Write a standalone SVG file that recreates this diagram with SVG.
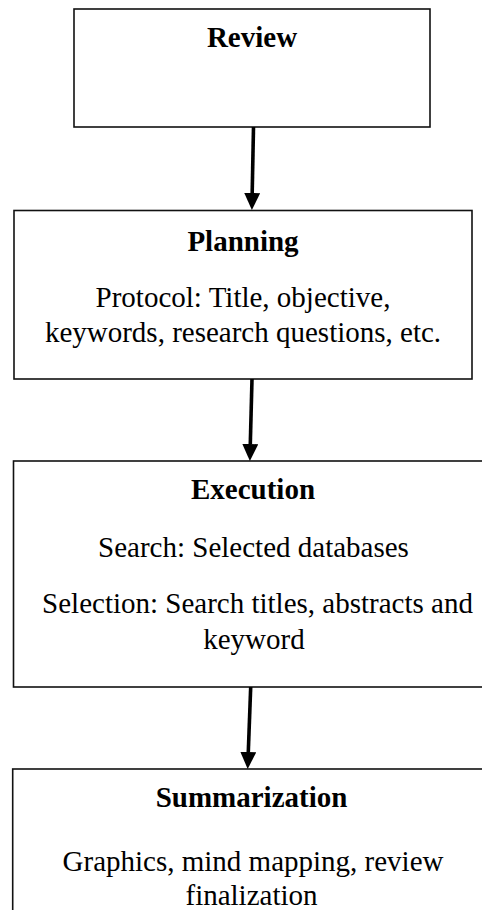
<svg xmlns="http://www.w3.org/2000/svg" width="482" height="910" viewBox="0 0 482 910">
  <style>
    .box { fill: #ffffff; stroke: #111111; stroke-width: 1.6; }
    .title { font-family: "Liberation Serif", "Times New Roman", serif; font-size: 29px; font-weight: bold; fill: #000; text-anchor: middle; }
    .body { font-family: "Liberation Serif", "Times New Roman", serif; font-size: 29px; fill: #000; text-anchor: middle; }
    .conn { stroke: #000; stroke-width: 3.6; fill: none; marker-end: url(#head); }
  </style>
  <defs>
    <marker id="head" markerUnits="userSpaceOnUse" markerWidth="18" markerHeight="17" refX="0" refY="8" orient="auto" viewBox="0 0 18 17">
      <path d="M0,0 L17,8 L0,16 z" fill="#000"/>
    </marker>
  </defs>
  <rect width="482" height="910" fill="#ffffff"/>

  <g id="review">
    <rect class="box" x="74" y="9" width="356" height="118"/>
    <text class="title" x="252" y="47">Review</text>
  </g>

  <g id="planning">
    <rect class="box" x="14" y="210.5" width="458" height="168.5"/>
    <text class="title" x="243" y="251">Planning</text>
    <text class="body" x="243" y="307">Protocol: Title, objective,</text>
    <text class="body" x="243" y="342">keywords, research questions, etc.</text>
  </g>

  <g id="execution">
    <rect class="box" x="13.5" y="461" width="485" height="226"/>
    <text class="title" x="253" y="499">Execution</text>
    <text class="body" x="253.5" y="557">Search: Selected databases</text>
    <text class="body" x="257.5" y="612.5">Selection: Search titles, abstracts and</text>
    <text class="body" x="254" y="649">keyword</text>
  </g>

  <g id="summarization">
    <rect class="box" x="12.7" y="769" width="486" height="170"/>
    <text class="title" x="251.5" y="807">Summarization</text>
    <text class="body" x="253" y="871">Graphics, mind mapping, review</text>
    <text class="body" x="251.5" y="905">finalization</text>
  </g>

  <g id="connectors">
    <line class="conn" x1="253.5" y1="127" x2="252.2" y2="193"/>
    <line class="conn" x1="252" y1="379" x2="250.3" y2="444"/>
    <line class="conn" x1="250.7" y1="687" x2="248.3" y2="752"/>
  </g>
</svg>
